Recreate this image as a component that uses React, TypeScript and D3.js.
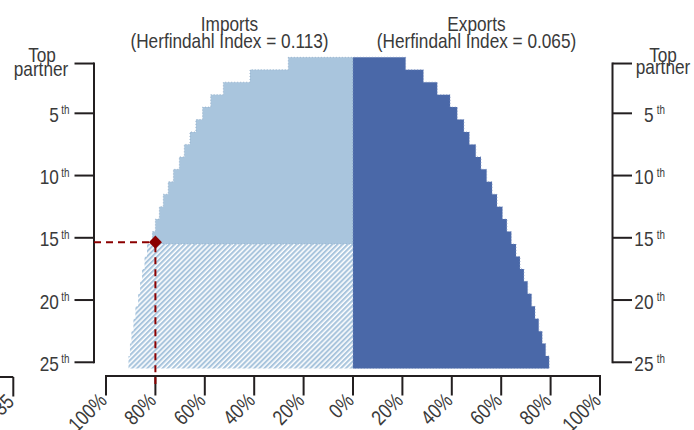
import React from "react";
import * as d3 from "d3";

const W = 694;
const H = 430;

// Ranks of trading partners (1 = top partner)
const ranks = [1, 2, 3, 4, 5, 6, 7, 8, 9, 10, 11, 12, 13, 14, 15, 16, 17, 18, 19, 20, 21, 22, 23, 24, 25];
// Cumulative share of imports (%) accounted for by top-N partners
const importShares = [26.2, 41.7, 52.5, 57.6, 60.9, 63.6, 66.0, 68.3, 70.3, 72.7, 74.8, 76.8, 78.4, 80.0, 81.2, 83.4, 84.4, 85.4, 86.2, 87.0, 88.1, 88.9, 89.7, 90.3, 90.9];
// Cumulative share of exports (%)
const exportShares = [21.3, 28.5, 34.1, 39.3, 42.2, 44.9, 47.1, 49.7, 51.8, 54.1, 56.3, 58.3, 60.5, 62.3, 64.1, 66.0, 67.6, 69.2, 70.7, 72.3, 73.7, 75.2, 76.6, 78.0, 79.4];
// Ranks beyond which imports are shown hatched (80% threshold reached)
const solidImportRanks = 15;
const thresholdRank = 15.35;
const thresholdShare = 80;

const rankTicks = [1, 5, 10, 15, 20, 25];
const rankTickNums = ["", "5", "10", "15", "20", "25"];
const shareTicks = [0, 20, 40, 60, 80, 100];
const importTitle = ["Imports", "(Herfindahl Index = 0.113)"];
const exportTitle = ["Exports", "(Herfindahl Index = 0.065)"];
const neighbourTick = "35";

const LIGHT = "#a9c5dd";
const DARK = "#4a68a8";
const AXIS = "#231f20";
const TEXT = "#3a3a3a";
const RED = "#8b0000";
const FONT = "'Liberation Sans', Arial, sans-serif";
const SQUEEZE = 0.82;

type NTProps = {
  x: number;
  y: number;
  anchor?: "start" | "middle" | "end";
  size: number;
  rotate?: number;
  children?: React.ReactNode;
};

function NText({ x, y, anchor = "start", size, rotate = 0, children }: NTProps) {
  return (
    <text
      transform={`translate(${x},${y}) rotate(${rotate}) scale(${SQUEEZE},1)`}
      textAnchor={anchor}
      fontSize={size}
      fill={TEXT}
      fontFamily={FONT}
    >
      {children}
    </text>
  );
}

export default function App() {
  const x0 = 353;
  const xL = d3.scaleLinear().domain([0, 100]).range([x0, 106]);
  const xR = d3.scaleLinear().domain([0, 100]).range([x0, 600]);
  const yB = d3.scaleBand<number>().domain(ranks).range([57.3, 368.5]).padding(0);
  const yC = (r: number) => (yB(r) as number) + yB.bandwidth() / 2;
  const yLin = d3.scaleLinear().domain([1, 25]).range([yC(1), yC(25)]);

  const axisY = 376;
  const leftAxisX = 94;
  const rightAxisX = 612.5;
  const tickLen = 19.5;

  const stepArea = (vals: number[], idx: number[], sx: d3.ScaleLinear<number, number>) => {
    const pts: { y: number; x: number }[] = [];
    idx.forEach((i) => {
      const top = yB(ranks[i]) as number;
      pts.push({ y: top, x: sx(vals[i]) });
      pts.push({ y: top + yB.bandwidth(), x: sx(vals[i]) });
    });
    return d3
      .area<{ y: number; x: number }>()
      .y((d) => d.y)
      .x0(() => sx(0))
      .x1((d) => d.x)
      .curve(d3.curveLinear)(pts) as string;
  };

  const solidIdx = ranks.map((_, i) => i).filter((i) => ranks[i] <= solidImportRanks);
  const hatchIdx = ranks.map((_, i) => i).filter((i) => ranks[i] > solidImportRanks);
  const allIdx = ranks.map((_, i) => i);

  const diamond = d3.symbol(d3.symbolSquare, 86)() as string;

  const labelFs = 21;
  const supFs = 12;
  const titleFs = 21;

  const bottomTicks = [
    ...shareTicks.map((v) => ({ v, x: xL(v), k: "L" + v })),
    ...shareTicks.filter((v) => v > 0).map((v) => ({ v, x: xR(v), k: "R" + v })),
  ];

  return (
    <div style={{ position: "absolute", left: 0, top: 0 }}>
      <svg width={W} height={H} style={{ display: "block" }}>
        <defs>
          <pattern id="hatch" patternUnits="userSpaceOnUse" width={3.6} height={10} patternTransform="rotate(45)">
            <rect x={0} y={0} width={2.1} height={10} fill={LIGHT} />
          </pattern>
        </defs>
        <rect width={W} height={H} fill="#fff" />

        {/* imports */}
        <path d={stepArea(importShares, solidIdx, xL)} fill={LIGHT} stroke="#8ea9c6" strokeWidth={0.8} strokeDasharray="1 2" />
        <path d={stepArea(importShares, hatchIdx, xL)} fill="url(#hatch)" />
        {/* exports */}
        <path d={stepArea(exportShares, allIdx, xR)} fill={DARK} stroke="#7f95c4" strokeWidth={0.8} strokeDasharray="1 2" />

        {/* titles */}
        {[{ t: importTitle, cx: xL(50) }, { t: exportTitle, cx: xR(50) }].map((g, gi) => (
          <g key={gi}>
            <NText x={g.cx} y={30.5} anchor="middle" size={titleFs}>{g.t[0]}</NText>
            <NText x={g.cx} y={48.2} anchor="middle" size={titleFs}>{g.t[1]}</NText>
          </g>
        ))}

        {/* left rank axis */}
        <line x1={leftAxisX} x2={leftAxisX} y1={yC(1) - 1} y2={yC(25) + 1} stroke={AXIS} strokeWidth={2} />
        {rankTicks.map((r, i) => (
          <g key={"l" + r}>
            <line x1={leftAxisX - tickLen} x2={leftAxisX} y1={yC(r)} y2={yC(r)} stroke={AXIS} strokeWidth={2} />
            {i === 0 ? (
              <g>
                <NText x={42} y={yC(r) - 2} anchor="middle" size={labelFs}>Top</NText>
                <NText x={41} y={yC(r) + 12.5} anchor="middle" size={labelFs}>partner</NText>
              </g>
            ) : (
              <NText x={69.5} y={yC(r) + 8.5} anchor="end" size={labelFs}>
                {rankTickNums[i]}
                <tspan dx={3} dy={-7.5} fontSize={supFs}>th</tspan>
              </NText>
            )}
          </g>
        ))}

        {/* right rank axis */}
        <line x1={rightAxisX} x2={rightAxisX} y1={yC(1) - 1} y2={yC(25) + 1} stroke={AXIS} strokeWidth={2} />
        {rankTicks.map((r, i) => (
          <g key={"r" + r}>
            <line x1={rightAxisX} x2={rightAxisX + tickLen} y1={yC(r)} y2={yC(r)} stroke={AXIS} strokeWidth={2} />
            {i === 0 ? (
              <g>
                <NText x={663} y={yC(r) - 1.5} anchor="middle" size={labelFs}>Top</NText>
                <NText x={663} y={yC(r) + 10.5} anchor="middle" size={labelFs}>partner</NText>
              </g>
            ) : (
              <NText x={665} y={yC(r) + 8.5} anchor="end" size={labelFs}>
                {rankTickNums[i]}
                <tspan dx={4} dy={-7.5} fontSize={supFs}>th</tspan>
              </NText>
            )}
          </g>
        ))}

        {/* bottom share axis */}
        <line x1={xL(100) - 1} x2={xR(100) + 1} y1={axisY} y2={axisY} stroke={AXIS} strokeWidth={2} />
        {bottomTicks.map((t) => (
          <g key={t.k}>
            <line x1={t.x} x2={t.x} y1={axisY} y2={axisY + tickLen} stroke={AXIS} strokeWidth={2} />
            <NText x={t.x + 2} y={axisY + 26} anchor="end" size={labelFs} rotate={-45}>
              {t.v}%
            </NText>
          </g>
        ))}

        {/* neighbouring panel remnant */}
        <line x1={-2} x2={13.3} y1={axisY + 1} y2={axisY + 1} stroke={AXIS} strokeWidth={2} />
        <line x1={13.3} x2={13.3} y1={axisY + 1} y2={axisY + 1 + tickLen} stroke={AXIS} strokeWidth={2} />
        <NText x={13.3 + 2} y={axisY + 27} anchor="end" size={labelFs} rotate={-45}>
          {neighbourTick}
        </NText>

        {/* 80% threshold guide */}
        <line x1={leftAxisX} x2={xL(thresholdShare)} y1={yLin(thresholdRank)} y2={yLin(thresholdRank)} stroke={RED} strokeWidth={2} strokeDasharray="7 5" />
        <line x1={xL(thresholdShare)} x2={xL(thresholdShare)} y1={yLin(thresholdRank)} y2={axisY + 8} stroke={RED} strokeWidth={2} strokeDasharray="7 5" strokeDashoffset={-3} />
        <path d={diamond} transform={`translate(${xL(thresholdShare)},${yLin(thresholdRank)}) rotate(45)`} fill={RED} />
      </svg>
    </div>
  );
}
